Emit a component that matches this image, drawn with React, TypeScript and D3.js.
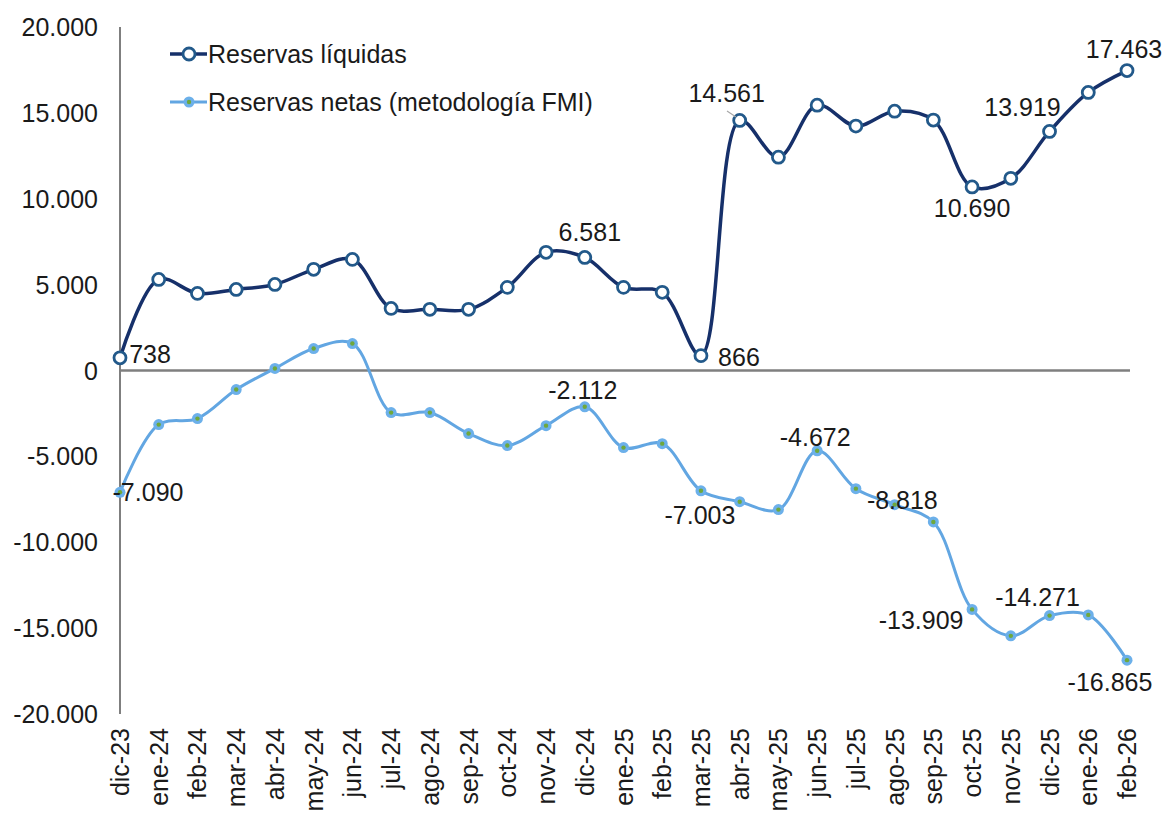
import React from "react";
import * as d3 from "d3";

const categories = [
  "dic-23", "ene-24", "feb-24", "mar-24", "abr-24", "may-24", "jun-24", "jul-24", "ago-24",
  "sep-24", "oct-24", "nov-24", "dic-24", "ene-25", "feb-25", "mar-25", "abr-25", "may-25",
  "jun-25", "jul-25", "ago-25", "sep-25", "oct-25", "nov-25", "dic-25", "ene-26", "feb-26",
];

const liquidas = [
  738, 5300, 4490, 4720, 5010, 5890, 6470, 3615, 3560, 3560, 4840, 6880, 6581, 4840, 4550,
  866, 14561, 12420, 15450, 14230, 15100, 14580, 10690, 11190, 13919, 16190, 17463,
];

const netas = [
  -7090, -3150, -2800, -1110, 120, 1280, 1570, -2450, -2450, -3670, -4370, -3210, -2112,
  -4490, -4260, -7003, -7640, -8100, -4672, -6880, -7810, -8818, -13909, -15450, -14271,
  -14230, -16865,
];

const yTicks = [-20000, -15000, -10000, -5000, 0, 5000, 10000, 15000, 20000];

const seriesNames = ["Reservas líquidas", "Reservas netas (metodología FMI)"];

// data labels: category index, offset of text centre/baseline from the point
const liquidasLabels = [
  { i: 0, dx: 30, dy: 5 },
  { i: 12, dx: 5, dy: -16 },
  { i: 15, dx: 38, dy: 10 },
  { i: 16, dx: -13, dy: -18 },
  { i: 22, dx: 0, dy: 30 },
  { i: 24, dx: -27, dy: -15 },
  { i: 26, dx: -3, dy: -13 },
];
const netasLabels = [
  { i: 0, dx: 28, dy: 9 },
  { i: 12, dx: -2, dy: -8 },
  { i: 15, dx: -1, dy: 33 },
  { i: 18, dx: -2, dy: -5 },
  { i: 21, dx: -31, dy: -13 },
  { i: 22, dx: -51, dy: 20 },
  { i: 24, dx: -12, dy: -10 },
  { i: 26, dx: -17, dy: 31 },
];

const W = 1169;
const H = 818;
const FONT = "'Liberation Sans', Arial, Helvetica, sans-serif";
const FS = 25;

const DARK_LINE = "#16306A";
const DARK_MARK = "#22598A";
const LIGHT_LINE = "#62A6E2";
const LIGHT_MARK = "#6CB0EA";
const GREEN = "#6FA83C";
const AXIS = "#7F7F7F";
const TEXT = "#1A1A1A";

const locale = d3.formatLocale({ decimal: ",", thousands: ".", grouping: [3], currency: ["", ""], minus: "-" });
const fmt = locale.format(",.0f");

export default function App() {
  const x = d3.scalePoint<string>().domain(categories).range([120, 1127]);
  const y = d3.scaleLinear().domain([-20000, 20000]).range([714, 27]);

  const line = d3
    .line<number>()
    .x((_, i) => x(categories[i]) as number)
    .y((d) => y(d))
    .curve(d3.curveCatmullRom.alpha(0.5));

  const px = (i: number) => x(categories[i]) as number;

  return (
    <div style={{ position: "absolute", left: 0, top: 0 }}>
      <svg width={W} height={H} style={{ display: "block", background: "#fff" }} fontFamily={FONT}>
        <rect width={W} height={H} fill="#fff" />
        {/* axes */}
        <line x1={120} x2={120} y1={y(20000)} y2={y(-20000)} stroke={AXIS} strokeWidth={2} />
        <line x1={120} x2={1130} y1={y(0)} y2={y(0)} stroke={AXIS} strokeWidth={2.5} />
        {yTicks.map((t) => (
          <text key={t} x={98} y={y(t) + 9} textAnchor="end" fontSize={FS} fill={TEXT}>
            {fmt(t)}
          </text>
        ))}
        {categories.map((c, i) => (
          <text
            key={c}
            transform={`translate(${px(i) + 9},728) rotate(-90)`}
            textAnchor="end"
            fontSize={FS}
            fill={TEXT}
          >
            {c}
          </text>
        ))}

        {/* netas */}
        <path d={line(netas) || ""} fill="none" stroke={LIGHT_LINE} strokeWidth={3} />
        {netas.map((v, i) => (
          <g key={"n" + i}>
            <circle cx={px(i)} cy={y(v)} r={5.5} fill={LIGHT_MARK} />
            <circle cx={px(i)} cy={y(v)} r={2.2} fill={GREEN} />
          </g>
        ))}

        {/* liquidas */}
        <path d={line(liquidas) || ""} fill="none" stroke={DARK_LINE} strokeWidth={3.5} />
        {liquidas.map((v, i) => (
          <circle key={"l" + i} cx={px(i)} cy={y(v)} r={6} fill="#fff" stroke={DARK_MARK} strokeWidth={2.8} />
        ))}

        {/* leader line for 14.561 */}
        <line x1={727} y1={111} x2={736} y2={117} stroke="#A6A6A6" strokeWidth={1.2} />

        {/* data labels */}
        {liquidasLabels.map((l) => (
          <text key={"ll" + l.i} x={px(l.i) + l.dx} y={y(liquidas[l.i]) + l.dy} textAnchor="middle" fontSize={FS} fill={TEXT}>
            {fmt(liquidas[l.i])}
          </text>
        ))}
        {netasLabels.map((l) => (
          <text key={"nl" + l.i} x={px(l.i) + l.dx} y={y(netas[l.i]) + l.dy} textAnchor="middle" fontSize={FS} fill={TEXT}>
            {fmt(netas[l.i])}
          </text>
        ))}

        {/* legend */}
        <line x1={170} x2={207} y1={54} y2={54} stroke={DARK_LINE} strokeWidth={3.5} />
        <circle cx={189} cy={54} r={6} fill="#fff" stroke={DARK_MARK} strokeWidth={2.8} />
        <text x={208} y={63} fontSize={FS} fill={TEXT}>{seriesNames[0]}</text>
        <line x1={170} x2={207} y1={102} y2={102} stroke={LIGHT_LINE} strokeWidth={3} />
        <circle cx={189} cy={102} r={5.5} fill={LIGHT_MARK} />
        <circle cx={189} cy={102} r={2.2} fill={GREEN} />
        <text x={208} y={111} fontSize={FS} fill={TEXT}>{seriesNames[1]}</text>
      </svg>
    </div>
  );
}
